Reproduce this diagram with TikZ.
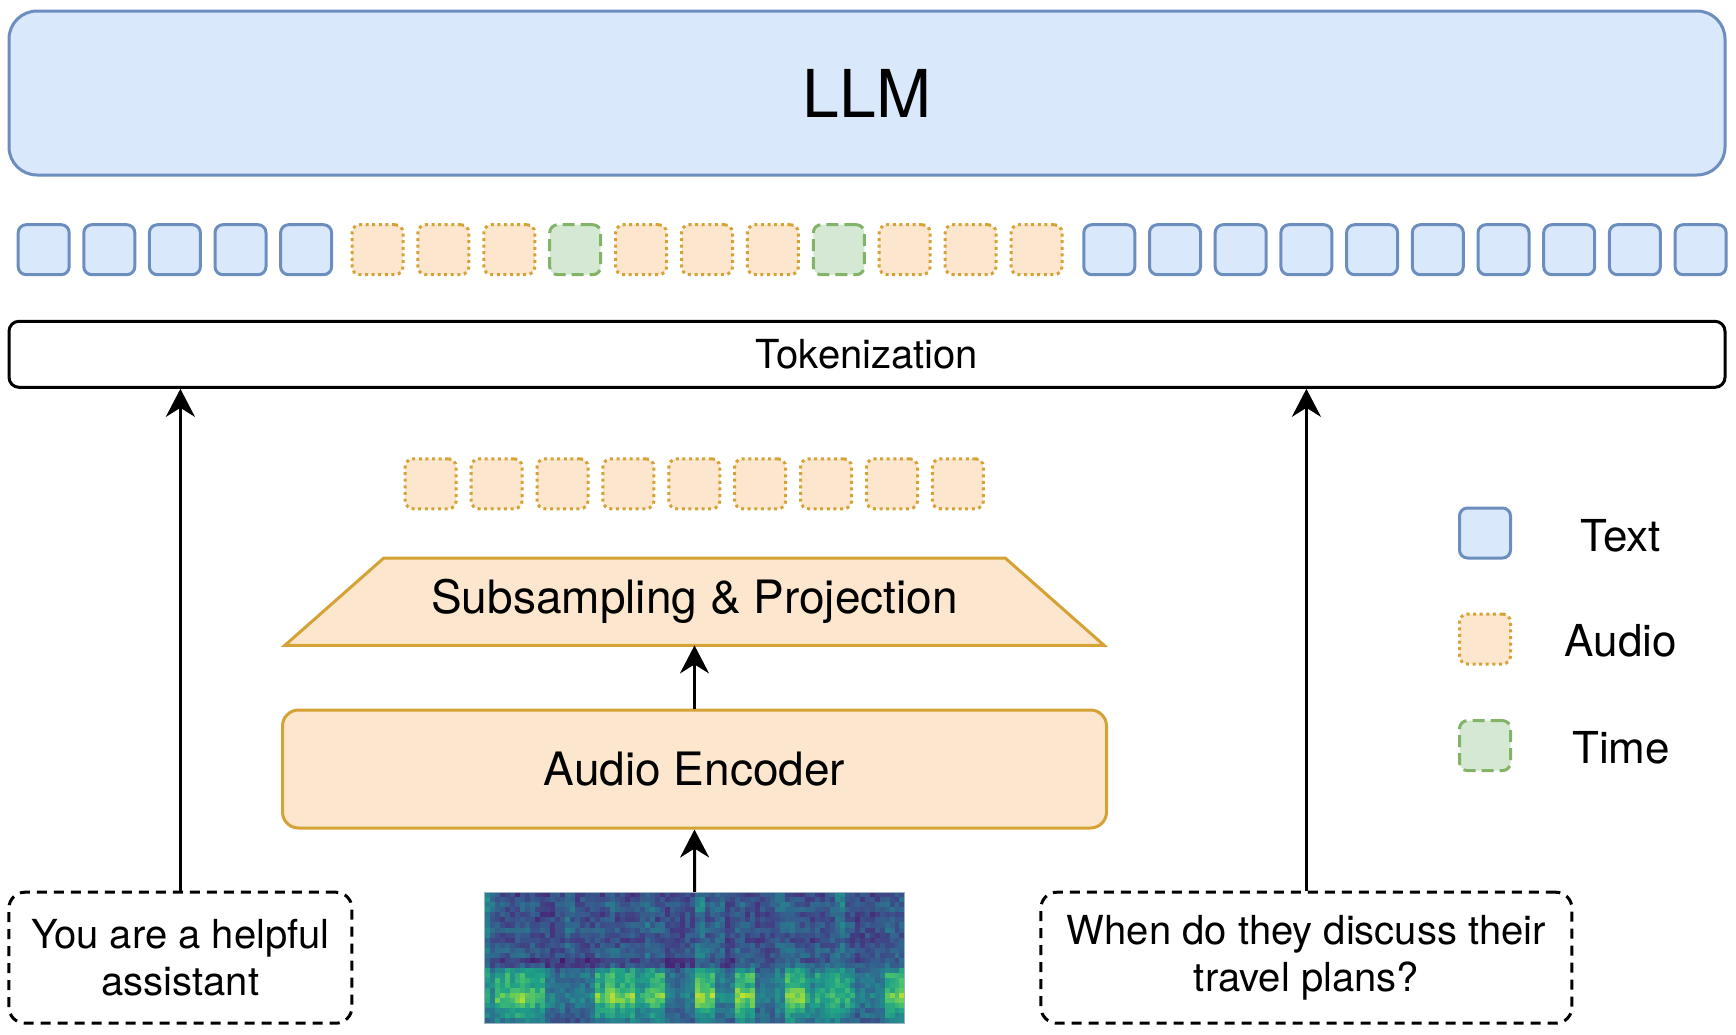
\documentclass[tikz,border=0pt]{standalone}
\usepackage{fontspec}
\setmainfont{TeX Gyre Heros}
\usetikzlibrary{arrows.meta,backgrounds}

\definecolor{txtfill}{HTML}{DAE8FC}
\definecolor{txtline}{HTML}{6C8EBF}
\definecolor{audfill}{HTML}{FCE6CD}
\definecolor{audline}{HTML}{D5A236}
\definecolor{timfill}{HTML}{D5E8D4}
\definecolor{timline}{HTML}{82B366}
\definecolor{specline}{HTML}{9FB4C2}
% viridis steps for the spectrogram
\definecolor{vi0}{HTML}{440154}
\definecolor{vi1}{HTML}{46327E}
\definecolor{vi2}{HTML}{365C8D}
\definecolor{vi3}{HTML}{277F8E}
\definecolor{vi4}{HTML}{1FA187}
\definecolor{vi5}{HTML}{4AC16D}
\definecolor{vi6}{HTML}{A0DA39}
\definecolor{vi7}{HTML}{FDE725}
\definecolor{vi8}{HTML}{FDE725}

% energy per pair of spectrogram columns (low band, upper streaks)
\def\celist{{0.5,0.75,0.85,0.85,0.8,0.7,0.4,0.3,0.25,0.3,0.4,0.8,0.9,0.95,0.85,0.6,0.7,0.85,0.4,0.3,0.35,0.85,0.8,0.35,0.4,0.9,0.8,0.3,0.3,0.4,0.95,1.0,0.6,0.7,0.75,0.7,0.6,0.35,0.35,0.45,0.85,0.8}}
\def\cslist{{1.0,0.3,0.1,0.1,0.2,0.1,0.1,0.2,0.8,0.3,0.1,0.1,0.2,0.1,0.1,0.3,0.7,0.2,0.1,0.1,0.2,0.8,0.3,0.6,0.1,0.2,0.1,0.1,0.3,0.7,0.2,0.1,0.1,0.2,0.3,0.8,0.3,0.1,0.1,0.2,0.3,0.2}}

\begin{document}
\begin{tikzpicture}[x=1pt,y=-1pt,
    tok/.style={line width=3pt, rounded corners=8pt, minimum width=51pt, minimum height=50pt, inner sep=0pt},
    txttok/.style={tok, draw=txtline, fill=txtfill},
    audtok/.style={tok, draw=audline, fill=audfill, dash pattern=on 3pt off 3.6pt},
    timtok/.style={tok, draw=timline, fill=timfill, dash pattern=on 12pt off 6pt},
    prompt/.style={draw, line width=3pt, rounded corners=16pt, dash pattern=on 10pt off 7pt,
        minimum height=131pt, inner sep=0pt, align=center, font=\fontsize{40}{47}\selectfont},
    arr/.style={-{Stealth[length=28pt,width=29pt,inset=9pt]}, line width=3pt},
    keylbl/.style={font=\fontsize{44}{52}\selectfont}]

    \useasboundingbox (0,0) rectangle (1736,1034);

    % llm
    \node[draw=txtline, fill=txtfill, line width=3pt, rounded corners=28pt, minimum width=1716pt,
        minimum height=164pt, inner sep=0pt, font=\fontsize{66}{78}\selectfont] (llm) at (867,93) {LLM};

    % token sequence
    \foreach \i in {0,...,4}
        \node[txttok] (tl\i) at ({43.7+65.6*\i},249.7) {};
    \foreach \i/\s in {0/audtok,1/audtok,2/audtok,3/timtok,4/audtok,5/audtok,6/audtok,7/timtok,8/audtok,9/audtok,10/audtok}
        \node[\s] (a\i) at ({377.5+65.9*\i},249.7) {};
    \foreach \i in {0,...,9}
        \node[txttok] (tr\i) at ({1109.3+65.7*\i},249.7) {};

    \node[draw, line width=3pt, rounded corners=10pt, minimum width=1716pt, minimum height=66pt,
        inner sep=0pt, font=\fontsize{40}{48}\selectfont] (tok) at (867,354.3) {Tokenization};

    % audio branch
    \foreach \i in {0,...,8}
        \node[audtok] (e\i) at ({430.7+65.9*\i},483.8) {};

    \node[minimum width=819pt, minimum height=87pt, inner sep=0pt,
        font=\fontsize{46}{55}\selectfont] (sub) at (694.5,601.7) {Subsampling \& Projection};
    \begin{scope}[on background layer]
        \draw[draw=audline, fill=audfill, line width=3pt] ([xshift=99pt]sub.north west) -- ([xshift=-99pt]sub.north east)
            -- (sub.south east) -- (sub.south west) -- cycle;
    \end{scope}

    \node[draw=audline, fill=audfill, line width=3pt, rounded corners=16pt, minimum width=824pt,
        minimum height=118pt, inner sep=0pt, font=\fontsize{46}{55}\selectfont] (enc) at (694.5,769) {Audio Encoder};

    % spectrogram
    \pgfmathsetseed{11}
    \foreach \c in {0,...,83}{
        \pgfmathtruncatemacro{\ci}{\c/2}
        \pgfmathsetmacro{\ce}{\celist[\ci]*(0.85+0.3*rnd)}
        \pgfmathsetmacro{\cs}{\cslist[\ci]*(0.7+0.6*rnd)}
        \pgfmathsetmacro{\cl}{(\c<50)}
        \foreach \r in {0,...,25}{
            \pgfmathsetmacro{\ty}{\r/25}
            \pgfmathsetmacro{\pa}{(\ty-0.82)/0.16}
            \pgfmathsetmacro{\pb}{(\ty-0.64)/0.08}
            \pgfmathsetmacro{\vv}{min(6.99,max(0,0.65+1.25*rnd+\ce*(0.6*\ty+3.8*exp(-\pa*\pa)+1.6*exp(-\pb*\pb)+0.7*pow(sin(\r*40),2))+1.6*\cs*(1-\ty)-0.6*\cl*(abs(\ty-0.54)<0.03)))}
            \pgfmathtruncatemacro{\vk}{\vv}
            \pgfmathtruncatemacro{\vkk}{\vk+1}
            \pgfmathtruncatemacro{\vp}{(\vv-\vk)*100}
            \fill[vi\vkk!\vp!vi\vk] ({484.9+\c*4.995},{892.3+\r*5.027}) rectangle ++(5.05,5.08);
        }
    }
    \node[draw=specline, line width=1pt, minimum width=419.6pt, minimum height=130.7pt, inner sep=0pt] (spec) at (694.7,957.7) {};

    % prompts
    \node[prompt, minimum width=343pt] (pl) at (180.4,957.7) {You are a helpful\\assistant};
    \node[prompt, minimum width=531pt] (pr) at (1306.4,957.7) {When do they discuss their\\travel plans?};

    \draw[arr] (spec.north) -- (enc.south);
    \draw[arr] (enc.north) -- (sub.south);
    \draw[arr] (pl.north) -- (tok.south -| pl.north);
    \draw[arr] (pr.north) -- (tok.south -| pr.north);

    % legend
    \node[txttok] (keytxt) at (1485,533) {};
    \node[audtok] (keyaud) at (1485,639) {};
    \node[timtok] (keytim) at (1485,745.6) {};
    \node[keylbl] (keytxtl) at (1621,535.8) {Text};
    \node[keylbl] (keyaudl) at (1621,641) {Audio};
    \node[keylbl] (keytiml) at (1621,747.3) {Time};
\end{tikzpicture}
\end{document}
